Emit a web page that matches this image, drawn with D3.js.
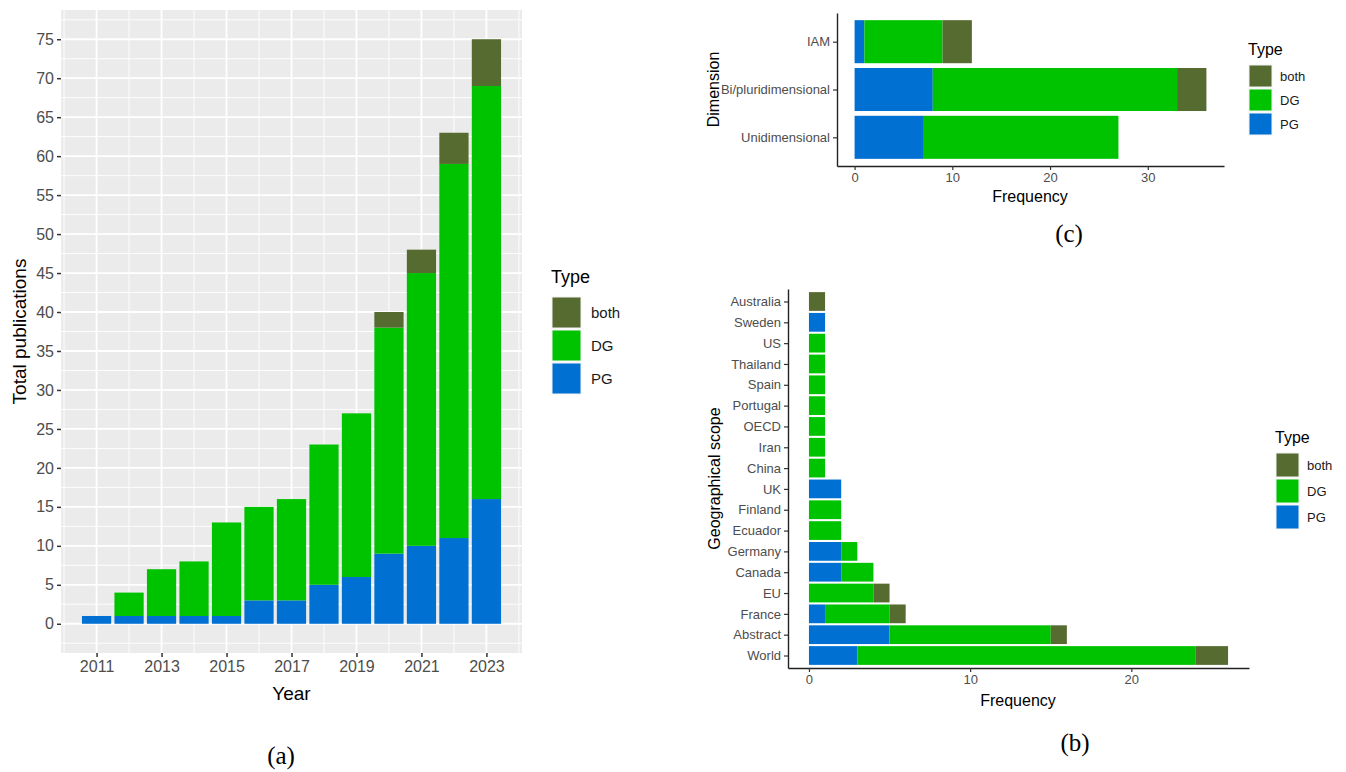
<html>
<head>
<meta charset="utf-8">
<title>Publications by type</title>
<script src="https://d3js.org/d3.v7.min.js"></script>
<style>
  body { margin: 0; background: #fff; }
  text { font-family: "Liberation Sans", Arial, sans-serif; }
</style>
</head>
<body>
<svg width="1346" height="772"></svg>
<script>
// ---- data ----
var types = ["both", "DG", "PG"];
var colors = {both: "#556b2f", DG: "#00c300", PG: "#0070d2"};

var years = [2011, 2012, 2013, 2014, 2015, 2016, 2017, 2018, 2019, 2020, 2021, 2022, 2023];
var pgYear   = [1, 1, 1, 1, 1, 3, 3, 5, 6, 9, 10, 11, 16];
var dgYear   = [0, 3, 6, 7, 12, 12, 13, 18, 21, 29, 35, 48, 53];
var bothYear = [0, 0, 0, 0, 0, 0, 0, 0, 0, 2, 3, 4, 6];
var yTicksA = d3.range(0, 76, 5);
var xTicksA = [2011, 2013, 2015, 2017, 2019, 2021, 2023];

var dims = ["IAM", "Bi/pluridimensional", "Unidimensional"];
var pgDim   = [1, 8, 7];
var dgDim   = [8, 25, 20];
var bothDim = [3, 3, 0];

var scopes = ["Australia", "Sweden", "US", "Thailand", "Spain", "Portugal", "OECD", "Iran", "China",
              "UK", "Finland", "Ecuador", "Germany", "Canada", "EU", "France", "Abstract", "World"];
var pgScope   = [0, 1, 0, 0, 0, 0, 0, 0, 0, 2, 0, 0, 2, 2, 0, 1, 5, 3];
var dgScope   = [0, 0, 1, 1, 1, 1, 1, 1, 1, 0, 2, 2, 1, 2, 4, 4, 10, 21];
var bothScope = [1, 0, 0, 0, 0, 0, 0, 0, 0, 0, 0, 0, 0, 0, 1, 1, 1, 2];

var svg = d3.select("svg");
var stack = d3.stack().keys(["PG", "DG", "both"]);
var serif = "'Liberation Serif', 'Times New Roman', serif";

function rows(cats, pg, dg, both) {
  return cats.map(function(c, i) { return {cat: c, PG: pg[i], DG: dg[i], both: both[i]}; });
}

function legend(g, x, y, o) {
  g.append("text").attr("x", x).attr("y", y).attr("font-size", o.title).attr("fill", "#000").text("Type");
  types.forEach(function(t, i) {
    var ky = y + o.off + i * (o.kh + 2);
    g.append("rect").attr("x", x + 1).attr("y", ky).attr("width", o.kw).attr("height", o.kh)
      .attr("fill", colors[t]).attr("stroke", "#f2f2f2").attr("stroke-width", 1);
    g.append("text").attr("x", x + o.kw + o.gap).attr("y", ky + o.kh / 2).attr("dy", "0.35em")
      .attr("font-size", o.label).attr("fill", "#1a1a1a").text(t);
  });
}

// ---- panel (a) ----
(function() {
  var L = 61, R = 522, T = 10, B = 653;
  var data = rows(years, pgYear, dgYear, bothYear);
  var lo = d3.min(years) - 0.45, hi = d3.max(years) + 0.45, ex = (hi - lo) * 0.05;
  var x = d3.scaleLinear().domain([lo - ex, hi + ex]).range([L, R]);
  var maxY = d3.max(data, function(d) { return d.PG + d.DG + d.both; });
  var y = d3.scaleLinear().domain([-maxY * 0.05, maxY * 1.05]).range([B, T]);
  var g = svg.append("g");

  g.append("rect").attr("x", L).attr("y", T).attr("width", R - L).attr("height", B - T).attr("fill", "#ebebeb");
  var minorY = d3.range(-2.5, 80, 5).filter(function(v) { return y(v) < B && y(v) > T; });
  var minorX = d3.range(2010, 2025, 2).filter(function(v) { return x(v) > L && x(v) < R; });
  g.selectAll(".mny").data(minorY).enter().append("line")
    .attr("x1", L).attr("x2", R).attr("y1", y).attr("y2", y).attr("stroke", "#fff").attr("stroke-width", 0.9);
  g.selectAll(".mnx").data(minorX).enter().append("line")
    .attr("y1", T).attr("y2", B).attr("x1", x).attr("x2", x).attr("stroke", "#fff").attr("stroke-width", 0.9);
  g.selectAll(".mjy").data(yTicksA).enter().append("line")
    .attr("x1", L).attr("x2", R).attr("y1", y).attr("y2", y).attr("stroke", "#fff").attr("stroke-width", 1.8);
  g.selectAll(".mjx").data(xTicksA).enter().append("line")
    .attr("y1", T).attr("y2", B).attr("x1", x).attr("x2", x).attr("stroke", "#fff").attr("stroke-width", 1.8);

  var bw = x(0.9) - x(0);
  g.selectAll(".layer").data(stack(data)).enter().append("g")
    .attr("fill", function(d) { return colors[d.key]; })
   .selectAll("rect").data(function(d) { return d; }).enter().append("rect")
    .attr("x", function(d) { return x(d.data.cat) - bw / 2; })
    .attr("width", bw)
    .attr("y", function(d) { return y(d[1]); })
    .attr("height", function(d) { return y(d[0]) - y(d[1]); });

  var ya = g.append("g").attr("transform", "translate(" + L + ",0)")
    .call(d3.axisLeft(y).tickValues(yTicksA).tickSize(4).tickPadding(3));
  var xa = g.append("g").attr("transform", "translate(0," + B + ")")
    .call(d3.axisBottom(x).tickValues(xTicksA).tickFormat(d3.format("d")).tickSize(4).tickPadding(4));
  [ya, xa].forEach(function(a) {
    a.select(".domain").remove();
    a.selectAll(".tick line").attr("stroke", "#333").attr("stroke-width", 1.5);
    a.selectAll("text").attr("font-size", 16).attr("fill", "#4d4d4d");
  });

  g.append("text").attr("transform", "translate(26," + (T + B) / 2 + ") rotate(-90)")
    .attr("text-anchor", "middle").attr("font-size", 19).text("Total publications");
  g.append("text").attr("x", (L + R) / 2).attr("y", 700).attr("text-anchor", "middle")
    .attr("font-size", 19).text("Year");

  legend(g, 551, 283, {title: 18, label: 15, kw: 29, kh: 31, off: 14, gap: 11});

  g.append("text").attr("x", 281).attr("y", 764).attr("text-anchor", "middle")
    .style("font-family", serif).attr("font-size", 25).text("(a)");
})();

// ---- horizontal stacked panels (b), (c) ----
function hpanel(o) {
  var data = rows(o.cats, o.pg, o.dg, o.both);
  var maxX = d3.max(data, function(d) { return d.PG + d.DG + d.both; });
  var x = d3.scaleLinear().domain([-maxX * 0.05, maxX * 1.05]).range([o.L, o.R]);
  var y = d3.scalePoint().domain(o.cats).range([o.T, o.B]).padding(0.6);
  var bh = y.step() * 0.9;
  var g = svg.append("g");

  g.selectAll(".layer").data(stack(data)).enter().append("g")
    .attr("fill", function(d) { return colors[d.key]; })
   .selectAll("rect").data(function(d) { return d.filter(function(s) { return s[1] > s[0]; }); })
   .enter().append("rect")
    .attr("y", function(d) { return y(d.data.cat) - bh / 2; })
    .attr("height", bh)
    .attr("x", function(d) { return x(d[0]); })
    .attr("width", function(d) { return x(d[1]) - x(d[0]); });

  var ya = g.append("g").attr("transform", "translate(" + o.L + ",0)")
    .call(d3.axisLeft(y).tickSize(4).tickPadding(3).tickSizeOuter(0));
  var xa = g.append("g").attr("transform", "translate(0," + o.B + ")")
    .call(d3.axisBottom(x).tickValues(o.xticks).tickSize(4).tickPadding(3).tickSizeOuter(0));
  [ya, xa].forEach(function(a) {
    a.select(".domain").attr("stroke", "#222").attr("stroke-width", 1.4);
    a.selectAll(".tick line").attr("stroke", "#333").attr("stroke-width", 1.2);
    a.selectAll("text").attr("font-size", 13).attr("fill", "#4d4d4d");
  });

  g.append("text").attr("transform", "translate(" + o.ylabX + "," + (o.T + o.B) / 2 + ") rotate(-90)")
    .attr("text-anchor", "middle").attr("font-size", 16).text(o.ylab);
  g.append("text").attr("x", o.xlabX).attr("y", o.xlabY).attr("text-anchor", "middle")
    .attr("font-size", 16).text("Frequency");
  legend(g, o.legX, o.legY, {title: 16, label: 13, kw: 23, kh: o.kh, off: 10, gap: 9});
  g.append("text").attr("x", o.tagX).attr("y", o.tagY).attr("text-anchor", "middle")
    .style("font-family", serif).attr("font-size", 25).text(o.tag);
}

hpanel({cats: dims, pg: pgDim, dg: dgDim, both: bothDim,
  L: 837, R: 1224, T: 13, B: 166, xticks: [0, 10, 20, 30],
  ylab: "Dimension", ylabX: 719, xlabX: 1030, xlabY: 202,
  legX: 1248, legY: 55, kh: 22, tag: "(c)", tagX: 1069, tagY: 242});

hpanel({cats: scopes, pg: pgScope, dg: dgScope, both: bothScope,
  L: 788, R: 1249, T: 289, B: 668, xticks: [0, 10, 20],
  ylab: "Geographical scope", ylabX: 720, xlabX: 1018, xlabY: 706,
  legX: 1275, legY: 443, kh: 24, tag: "(b)", tagX: 1075, tagY: 751});
</script>
</body>
</html>
